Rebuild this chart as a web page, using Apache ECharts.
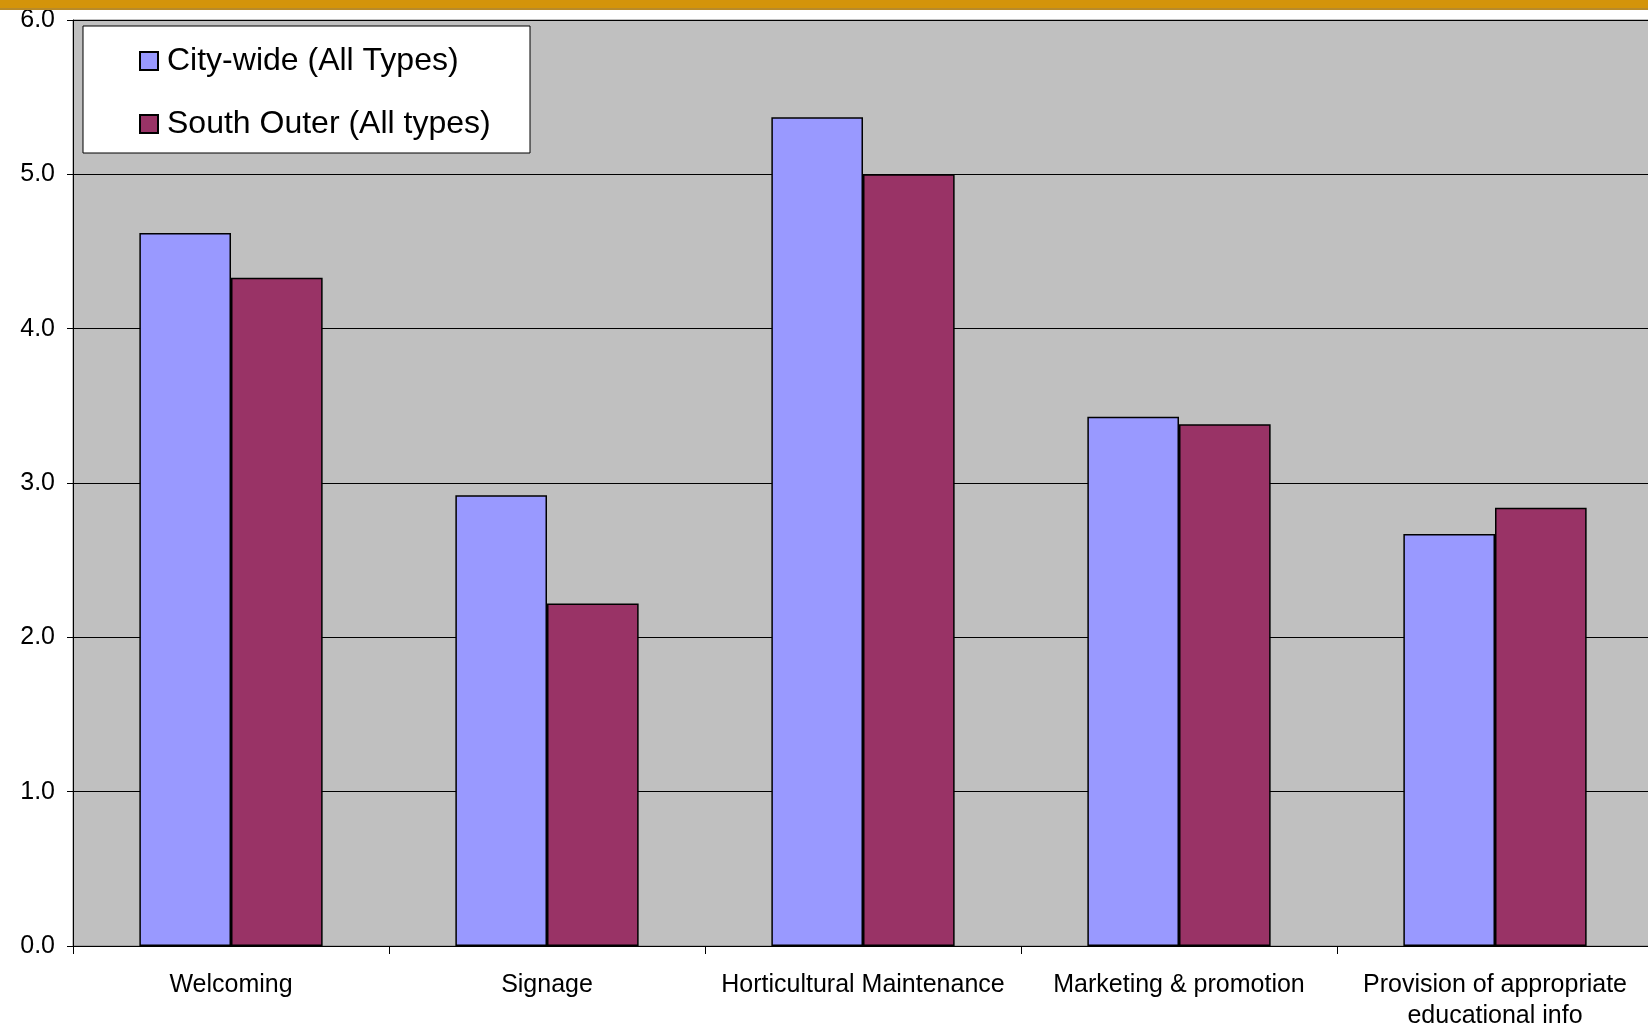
<!DOCTYPE html>
<html>
<head>
<meta charset="utf-8">
<script src="https://cdn.jsdelivr.net/npm/echarts@6/dist/echarts.min.js"></script>
<style>
html,body{margin:0;padding:0;background:#fff;}
#chart{width:1648px;height:1028px;}
</style>
</head>
<body>
<div id="chart"></div>
<script>
const categories = ['Welcoming', 'Signage', 'Horticultural Maintenance', 'Marketing & promotion', 'Provision of appropriate\neducational info'];
const cityWide = [4.62, 2.92, 5.37, 3.43, 2.67];
const southOuter = [4.33, 2.22, 5.0, 3.38, 2.84];
const seriesNames = ['City-wide (All Types)', 'South Outer (All types)'];

const FONT = '"Liberation Sans", Arial, sans-serif';
const chart = echarts.init(document.getElementById('chart'));
chart.setOption({
  animation: false,
  backgroundColor: '#ffffff',
  graphic: [
    { type: 'rect', shape: { x: 0, y: 0, width: 1648, height: 9 }, style: { fill: '#D4940A' }, z: 100 },
    { type: 'rect', shape: { x: 0, y: 8, width: 1648, height: 2 }, style: { fill: '#B88A2A' }, z: 100 },
    { type: 'rect', shape: { x: 83, y: 26, width: 447, height: 127 }, style: { fill: '#ffffff', stroke: '#000000', lineWidth: 1 }, z: 50 }
  ],
  legend: {
    orient: 'vertical',
    left: 134,
    top: 40,
    itemWidth: 18,
    itemHeight: 18,
    itemGap: 31,
    icon: 'rect',
    z: 60,
    textStyle: { fontFamily: FONT, fontSize: 32, color: '#000', padding: [0, 0, 0, 4] },
    data: seriesNames
  },
  grid: {
    left: 73, right: -5, top: 20, bottom: 82,
    containLabel: false,
    outerBoundsMode: 'none',
    show: true, backgroundColor: '#C0C0C0', borderColor: '#808080', borderWidth: 1
  },
  xAxis: {
    type: 'category',
    data: categories,
    axisLine: { lineStyle: { color: '#000', width: 1 } },
    axisTick: { show: true, length: 8, lineStyle: { color: '#000' } },
    axisLabel: { fontFamily: FONT, fontSize: 25, color: '#000', margin: 24, lineHeight: 31, interval: 0 }
  },
  yAxis: {
    type: 'value',
    min: 0, max: 6, interval: 1,
    axisLine: { show: true, lineStyle: { color: '#000' } },
    axisTick: { show: true, length: 6, lineStyle: { color: '#000' } },
    axisLabel: { fontFamily: FONT, fontSize: 25, color: '#000', margin: 18, formatter: v => v.toFixed(1) },
    splitLine: { show: true, lineStyle: { color: '#000', width: 1 } }
  },
  series: [
    {
      name: seriesNames[0], type: 'bar', data: cityWide,
      barGap: '0%', barCategoryGap: '42%',
      itemStyle: { color: '#9999FF', borderColor: '#000', borderWidth: 1.5 }
    },
    {
      name: seriesNames[1], type: 'bar', data: southOuter,
      itemStyle: { color: '#993366', borderColor: '#000', borderWidth: 1.5 }
    }
  ]
});
</script>
</body>
</html>
